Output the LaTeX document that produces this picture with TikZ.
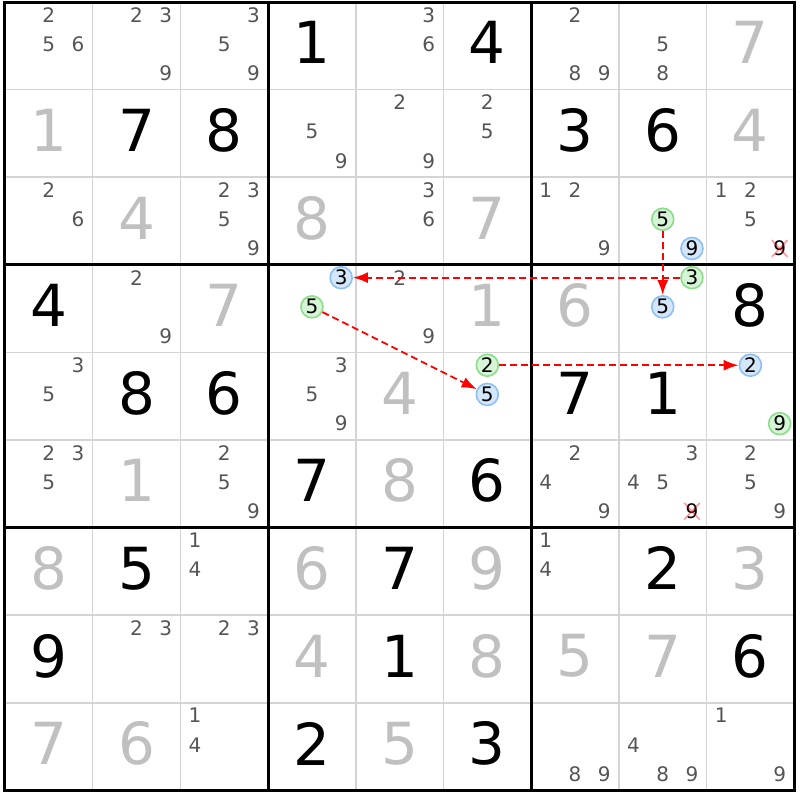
\documentclass[tikz,border=0pt]{standalone}
\usepackage{fontspec}
\setmainfont{DejaVu Sans}
\usepackage{xcolor}
\usetikzlibrary{arrows.meta,shapes.misc}
\definecolor{solvedgray}{RGB}{192,192,192}
\definecolor{candgray}{RGB}{85,85,85}
\definecolor{gridgray}{RGB}{212,212,212}
\definecolor{chaingreen}{RGB}{140,220,140}
\definecolor{chaingreenfill}{RGB}{214,244,214}
\definecolor{chainblue}{RGB}{140,192,245}
\definecolor{chainbluefill}{RGB}{212,230,250}
\definecolor{chainred}{RGB}{255,0,0}

\begin{document}
\begin{tikzpicture}[x=87.7pt, y=-87.6pt,
    given/.style={font=\fontsize{58}{58}\selectfont, inner sep=0pt},
    solved/.style={given, solvedgray},
    cand/.style={font=\fontsize{20}{20}\selectfont, candgray, inner sep=0pt},
    oncand/.style={cand, black, circle, draw=chaingreen, fill=chaingreenfill, line width=1.6pt, minimum size=22pt},
    offcand/.style={cand, black, circle, draw=chainblue, fill=chainbluefill, line width=1.6pt, minimum size=22pt},
    elim/.style={cand, black, cross out, draw=chainred, draw opacity=0.4, line width=1.6pt, minimum size=14pt},
    link/.style={chainred, line width=1.8pt, dash pattern=on 7pt off 4pt, -{Latex[length=15pt,width=11pt]}}]
    \useasboundingbox (-0.057,-0.023) rectangle (9.065,9.110);

    % Grid
    \foreach \i in {1,2,4,5,7,8} {
        \draw[gridgray, line width=1.5pt] (\i,0) -- (\i,9);
        \draw[gridgray, line width=1.5pt] (0,\i) -- (9,\i);
    }
    \foreach \i in {3,6} {
        \draw[black, line width=3pt] (\i,0) -- (\i,9);
        \draw[black, line width=3pt] (0,\i) -- (9,\i);
    }
    \draw[black, line width=3pt] (0,0) rectangle (9,9);

    % Givens
    \foreach \row/\col/\dig in {1/4/1, 1/6/4, 2/2/7, 2/3/8, 2/7/3, 2/8/6, 4/1/4, 4/9/8,
        5/2/8, 5/3/6, 5/7/7, 5/8/1, 6/4/7, 6/6/6, 7/2/5, 7/5/7, 7/8/2,
        8/1/9, 8/5/1, 8/9/6, 9/4/2, 9/6/3}
        \node[given] (g\row\col) at (\col-0.5, \row-0.535) {\dig};

    % Solved cells
    \foreach \row/\col/\dig in {1/9/7, 2/1/1, 2/9/4, 3/2/4, 3/4/8, 3/6/7, 4/3/7, 4/6/1, 4/7/6,
        5/5/4, 6/2/1, 6/5/8, 7/1/8, 7/4/6, 7/6/9, 7/9/3,
        8/4/4, 8/6/8, 8/7/5, 8/8/7, 9/1/7, 9/2/6, 9/5/5}
        \node[solved] (s\row\col) at (\col-0.5, \row-0.535) {\dig};

    % Candidates
    \foreach \row/\col/\dig in {1/1/2, 1/1/5, 1/1/6, 1/2/2, 1/2/3, 1/2/9, 1/3/3, 1/3/5, 1/3/9,
        1/5/3, 1/5/6, 1/7/2, 1/7/8, 1/7/9, 1/8/5, 1/8/8,
        2/4/5, 2/4/9, 2/5/2, 2/5/9, 2/6/2, 2/6/5,
        3/1/2, 3/1/6, 3/3/2, 3/3/3, 3/3/5, 3/3/9, 3/5/3, 3/5/6, 3/7/1, 3/7/2, 3/7/9,
        3/9/1, 3/9/2, 3/9/5,
        4/2/2, 4/2/9, 4/5/2, 4/5/9,
        5/1/3, 5/1/5, 5/4/3, 5/4/5, 5/4/9,
        6/1/2, 6/1/3, 6/1/5, 6/3/2, 6/3/5, 6/3/9, 6/7/2, 6/7/4, 6/7/9,
        6/8/3, 6/8/4, 6/8/5, 6/9/2, 6/9/5, 6/9/9,
        7/3/1, 7/3/4, 7/7/1, 7/7/4, 8/2/2, 8/2/3, 8/3/2, 8/3/3,
        9/3/1, 9/3/4, 9/7/8, 9/7/9, 9/8/4, 9/8/8, 9/8/9, 9/9/1, 9/9/9}
        \node[cand] (c\row\col\dig) at ({\col-1+(2*mod(\dig-1,3)+1)/6}, {\row-1+(2*floor((\dig-1)/3)+1)/6-0.02}) {\dig};

    % Chain candidates
    \node[oncand] (r3c8n5) at (7.5, 2.48) {5};
    \node[offcand] (r3c8n9) at (7.8333, 2.8133) {9};
    \node[oncand] (r4c8n3) at (7.8333, 3.1467) {3};
    \node[offcand] (r4c8n5) at (7.5, 3.48) {5};
    \node[offcand] (r4c4n3) at (3.8333, 3.1467) {3};
    \node[oncand] (r4c4n5) at (3.5, 3.48) {5};
    \node[oncand] (r5c6n2) at (5.5, 4.1467) {2};
    \node[offcand] (r5c6n5) at (5.5, 4.48) {5};
    \node[offcand] (r5c9n2) at (8.5, 4.1467) {2};
    \node[oncand] (r5c9n9) at (8.8333, 4.8133) {9};

    % Eliminations
    \node[elim] (r3c9n9) at (8.8333, 2.8133) {9};
    \node[elim] (r6c8n9) at (7.8333, 5.8133) {9};

    % Links
    \draw[link] (r3c8n5) -- (r4c8n5);
    \draw[link] (r4c8n3) -- (r4c4n3);
    \draw[link] (r4c4n5) -- (r5c6n5);
    \draw[link] (r5c6n2) -- (r5c9n2);
\end{tikzpicture}
\end{document}
